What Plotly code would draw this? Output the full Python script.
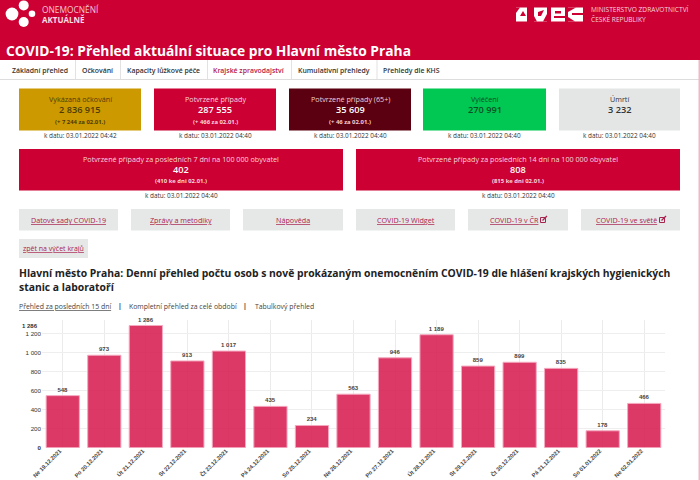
import plotly.graph_objects as go

# data
days = ["Ne 19.12.2021", "Po 20.12.2021", "Út 21.12.2021", "St 22.12.2021", "Čt 23.12.2021",
        "Pá 24.12.2021", "So 25.12.2021", "Ne 26.12.2021", "Po 27.12.2021", "Út 28.12.2021",
        "St 29.12.2021", "Čt 30.12.2021", "Pá 31.12.2021", "So 01.01.2022", "Ne 02.01.2022"]
cases = [548, 973, 1286, 913, 1017, 435, 234, 563, 946, 1189, 859, 899, 835, 178, 466]
y_ticks = [0, 200, 400, 600, 800, 1000, 1200]

nav_items = ["Základní přehled", "Očkování", "Kapacity lůžkové péče", "Krajské zpravodajství",
             "Kumulativní přehledy", "Přehledy dle KHS"]
card_titles = ["Vykázaná očkování", "Potvrzené případy", "Potvrzené případy (65+)", "Vyléčení", "Úmrtí"]
card_values = ["2 836 915", "287 555", "35 609", "270 991", "3 232"]
card_deltas = ["(+ 7 244 za 02.01.)", "(+ 466 za 02.01.)", "(+ 46 za 02.01.)", "", ""]
card_dates = ["k datu: 03.01.2022 04:42", "k datu: 03.01.2022 04:40", "k datu: 03.01.2022 04:40",
              "k datu: 03.01.2022 04:40", "k datu: 03.01.2022 04:40"]
wide_titles = ["Potvrzené případy za posledních 7 dní na 100 000 obyvatel",
               "Potvrzené případy za posledních 14 dní na 100 000 obyvatel"]
wide_values = ["402", "808"]
wide_deltas = ["(410 ke dni 02.01.)", "(815 ke dni 02.01.)"]
wide_date = "k datu: 03.01.2022 04:40"
buttons = ["Datové sady COVID-19", "Zprávy a metodiky", "Nápověda",
           "COVID-19 Widget", "COVID-19 v ČR", "COVID-19 ve světě"]

W, H = 700, 480
RED = "#cc0033"
LINK = "#a8244f"
FONT = "Open Sans"


def fmt(v):
    return f"{v:,}".replace(",", " ")


def px(x):
    return x / W


def py(y):
    return 1 - y / H


shapes = []
notes = []


def rect(x0, y0, x1, y1, fill, line=None):
    shapes.append(dict(type="rect", xref="paper", yref="paper", layer="below",
                       x0=px(x0), x1=px(x1), y0=py(y0), y1=py(y1), fillcolor=fill,
                       line=dict(color=line or fill, width=1 if line else 0)))


def circle(cx, cy, r, fill="white"):
    shapes.append(dict(type="circle", xref="paper", yref="paper", layer="below",
                       x0=px(cx - r), x1=px(cx + r), y0=py(cy + r), y1=py(cy - r),
                       fillcolor=fill, line=dict(width=0)))


def poly(points, fill):
    d = "M " + " L ".join(f"{px(a):.5f},{py(b):.5f}" for a, b in points) + " Z"
    shapes.append(dict(type="path", xref="paper", yref="paper", layer="below", path=d,
                       fillcolor=fill, line=dict(width=0)))


def text(x, y, s, size=8, color="#333333", anchor="center", bold=False, underline=False, weight=400):
    if bold:
        s = f"<b>{s}</b>"
    if underline:
        s = f"<u>{s}</u>"
    # annotations carry about 2px of padding
    if anchor == "left":
        x -= 2
    notes.append(dict(x=px(x), y=py(y), xref="paper", yref="paper", text=s, showarrow=False,
                      xanchor=anchor, yanchor="middle", align=anchor,
                      font=dict(family=FONT, size=size, color=color, weight=weight)))


def link_icon(x, y):
    shapes.append(dict(type="rect", xref="paper", yref="paper", x0=px(x), x1=px(x + 5), y0=py(y + 5), y1=py(y),
                       fillcolor="rgba(0,0,0,0)", line=dict(color=LINK, width=1)))
    shapes.append(dict(type="line", xref="paper", yref="paper", x0=px(x + 2), x1=px(x + 6.5),
                       y0=py(y + 3), y1=py(y - 1.5), line=dict(color=LINK, width=1.2)))


# header
rect(0, 0, W, 60, RED)
rect(0, 60, W, 80, "white")
rect(0, 79, 699, 80, "#dddddd")
rect(698.5, 60, 700, 480, "#eeb8c6")
for c in [(12, 14, 6.4), (23.7, 5.4, 5), (32, 13.8, 3.3), (23.7, 22, 5)]:
    circle(*c)
text(42, 9.5, "ONEMOCNĚNÍ", 8.4, "#f5c6d2", "left")
text(42, 20, "AKTUÁLNĚ", 8, "#f7dfe5", "left", bold=True)

# ministry mark
rect(516, 7.5, 527, 21.5, "white")
poly([(516, 7.5), (520, 7.5), (516, 13)], RED)
poly([(520, 16), (523, 11), (526, 16)], RED)
rect(534, 7.5, 547, 21.5, "white")
poly([(538, 12), (544, 10), (541, 16), (538, 16)], RED)
poly([(534, 21.5), (537, 21.5), (534, 16)], RED)
poly([(543, 21.5), (547, 21.5), (547, 14)], RED)
rect(551, 7.5, 565, 21.5, "white")
rect(555, 11, 561, 13.5, RED)
rect(554, 16, 565, 18, RED)
rect(568, 7.5, 583, 21.5, "white")
poly([(568, 7.5), (576, 7.5), (568, 12)], RED)
rect(572, 13, 583, 15, RED)
poly([(568, 21.5), (568, 17), (575, 21.5)], RED)
text(591, 9.5, "MINISTERSTVO ZDRAVOTNICTVÍ", 6.6, "#f7d5de", "left")
text(591, 19.5, "ČESKÉ REPUBLIKY", 6.6, "#f7d5de", "left")

text(6, 50.5, "COVID-19: Přehled aktuální situace pro Hlavní město Praha", 13.8, "white", "left", bold=True)

# tabs
nav_x = [40.3, 97.8, 163.3, 249, 334, 412]
nav_sep = [75, 120, 207, 291, 376.5]
for s, x in zip(nav_items, nav_x):
    active = s == "Krajské zpravodajství"
    text(x, 70.5, s, 6.9, "#b5174a" if active else "#333333", weight=600)
for x in nav_sep:
    rect(x, 60, x + 1, 79, "#e2e2e2")

# small cards
card_x = [(19, 141), (154, 276), (289, 411), (423, 546), (559, 680)]
card_fill = ["#cc9a00", RED, "#5a0010", "#00c853", "#e4e6e6"]
card_ink = ["#4d3a00", "#f9d5dd", "#f4cfd6", "#0b4d24", "#333333"]
for i, (x0, x1) in enumerate(card_x):
    mid = (x0 + x1) / 2
    rect(x0, 88.5, x1, 130.5, card_fill[i])
    text(mid, 98.5, card_titles[i], 7.2, card_ink[i])
    text(mid, 110, card_values[i], 9.2, card_ink[i] if i in (0, 3, 4) else "white", weight=600)
    if card_deltas[i]:
        text(mid, 121.5, card_deltas[i], 5.9, card_ink[i], bold=True)
    text(mid, 135.5, card_dates[i], 6.4)

# wide cards
for i, (x0, x1) in enumerate([(19, 343), (356, 680)]):
    mid = (x0 + x1) / 2
    rect(x0, 149, x1, 190.5, RED)
    text(mid, 159, wide_titles[i], 7.2, "#f9d5dd")
    text(mid, 169.5, wide_values[i], 9.2, "white", weight=600)
    text(mid, 181, wide_deltas[i], 5.9, "#f9d5dd", bold=True)
    text(mid, 195.5, wide_date, 6.4)

# link buttons
btn_x = [(19, 118), (131, 230), (243, 343), (356, 455), (468, 568), (581, 680)]
for s, (x0, x1) in zip(buttons, btn_x):
    rect(x0, 209, x1, 230.5, "#e6e7e7")
    mid = (x0 + x1) / 2
    if s == "COVID-19 v ČR":
        text(514, 220, s, 7.2, LINK, underline=True)
        link_icon(540.5, 217.5)
    elif s == "COVID-19 ve světě":
        text(626, 220, s, 7.2, LINK, underline=True)
        link_icon(659.5, 217.5)
    else:
        text(mid, 220, s, 7.2, LINK, underline=True)
rect(19, 239, 88, 258, "#e6e7e7")
text(53.5, 248.5, "zpět na výčet krajů", 7, LINK, underline=True)

# heading above the chart
text(19, 273, "Hlavní město Praha: Denní přehled počtu osob s nově prokázaným onemocněním COVID-19 dle hlášení krajských hygienických",
     10.35, "#222222", "left", bold=True)
text(19, 287, "stanic a laboratoří", 10.35, "#222222", "left", bold=True)
text(19, 306, "Přehled za posledních 15 dní", 6.9, "#444444", "left", underline=True)
text(120, 305.5, "|", 7, "#333333", bold=True)
text(129, 306, "Kompletní přehled za celé období", 6.9, "#444444", "left")
text(245, 305.5, "|", 7, "#333333", bold=True)
text(255, 306, "Tabulkový přehled", 6.9, "#444444", "left")

# max value label on the axis, no gridline there
notes.append(dict(x=px(40), xref="paper", y=max(cases), yref="y", text=f"<b>{fmt(max(cases))}</b>",
                  showarrow=False, xanchor="right", yanchor="middle",
                  font=dict(family="Liberation Sans", size=6, color="#333333")))

fig = go.Figure(go.Bar(
    x=days,
    y=cases,
    width=0.8,
    text=[fmt(v) for v in cases],
    textposition="outside",
    cliponaxis=False,
    textfont=dict(family="Liberation Sans", size=6, color="#444444", weight=700),
    marker=dict(color="rgba(216,27,80,0.87)", line=dict(color="#f4a9bf", width=1)),
    hoverinfo="skip",
))

fig.update_layout(
    width=W,
    height=H,
    margin=dict(l=0, r=0, t=0, b=0, autoexpand=False),
    paper_bgcolor="white",
    plot_bgcolor="white",
    showlegend=False,
    shapes=shapes,
    annotations=notes,
    xaxis=dict(
        domain=[px(42), px(665)],
        range=[-0.5, 14.5],
        type="category",
        tickangle=-45,
        showgrid=True,
        gridcolor="#ebebeb",
        gridwidth=1,
        showline=False,
        zeroline=False,
        ticks="",
        ticklabelstandoff=-2,
        ticklabelshift=-3,
        tickfont=dict(family="Liberation Sans", size=5.7, color="#444444", weight=700),
    ),
    yaxis=dict(
        domain=[py(447.7), py(320)],
        range=[0, 1344],
        tickvals=y_ticks,
        ticktext=["<b>0</b>" if v == 0 else fmt(v) for v in y_ticks],
        showgrid=True,
        gridcolor="#eeeeee",
        gridwidth=1,
        zeroline=False,
        showline=False,
        ticks="",
        tickfont=dict(family="Liberation Sans", size=6.2, color="#333333"),
    ),
)

fig.write_html("out.html", config={"displayModeBar": False}, post_script="document.body.style.margin = '0';")
